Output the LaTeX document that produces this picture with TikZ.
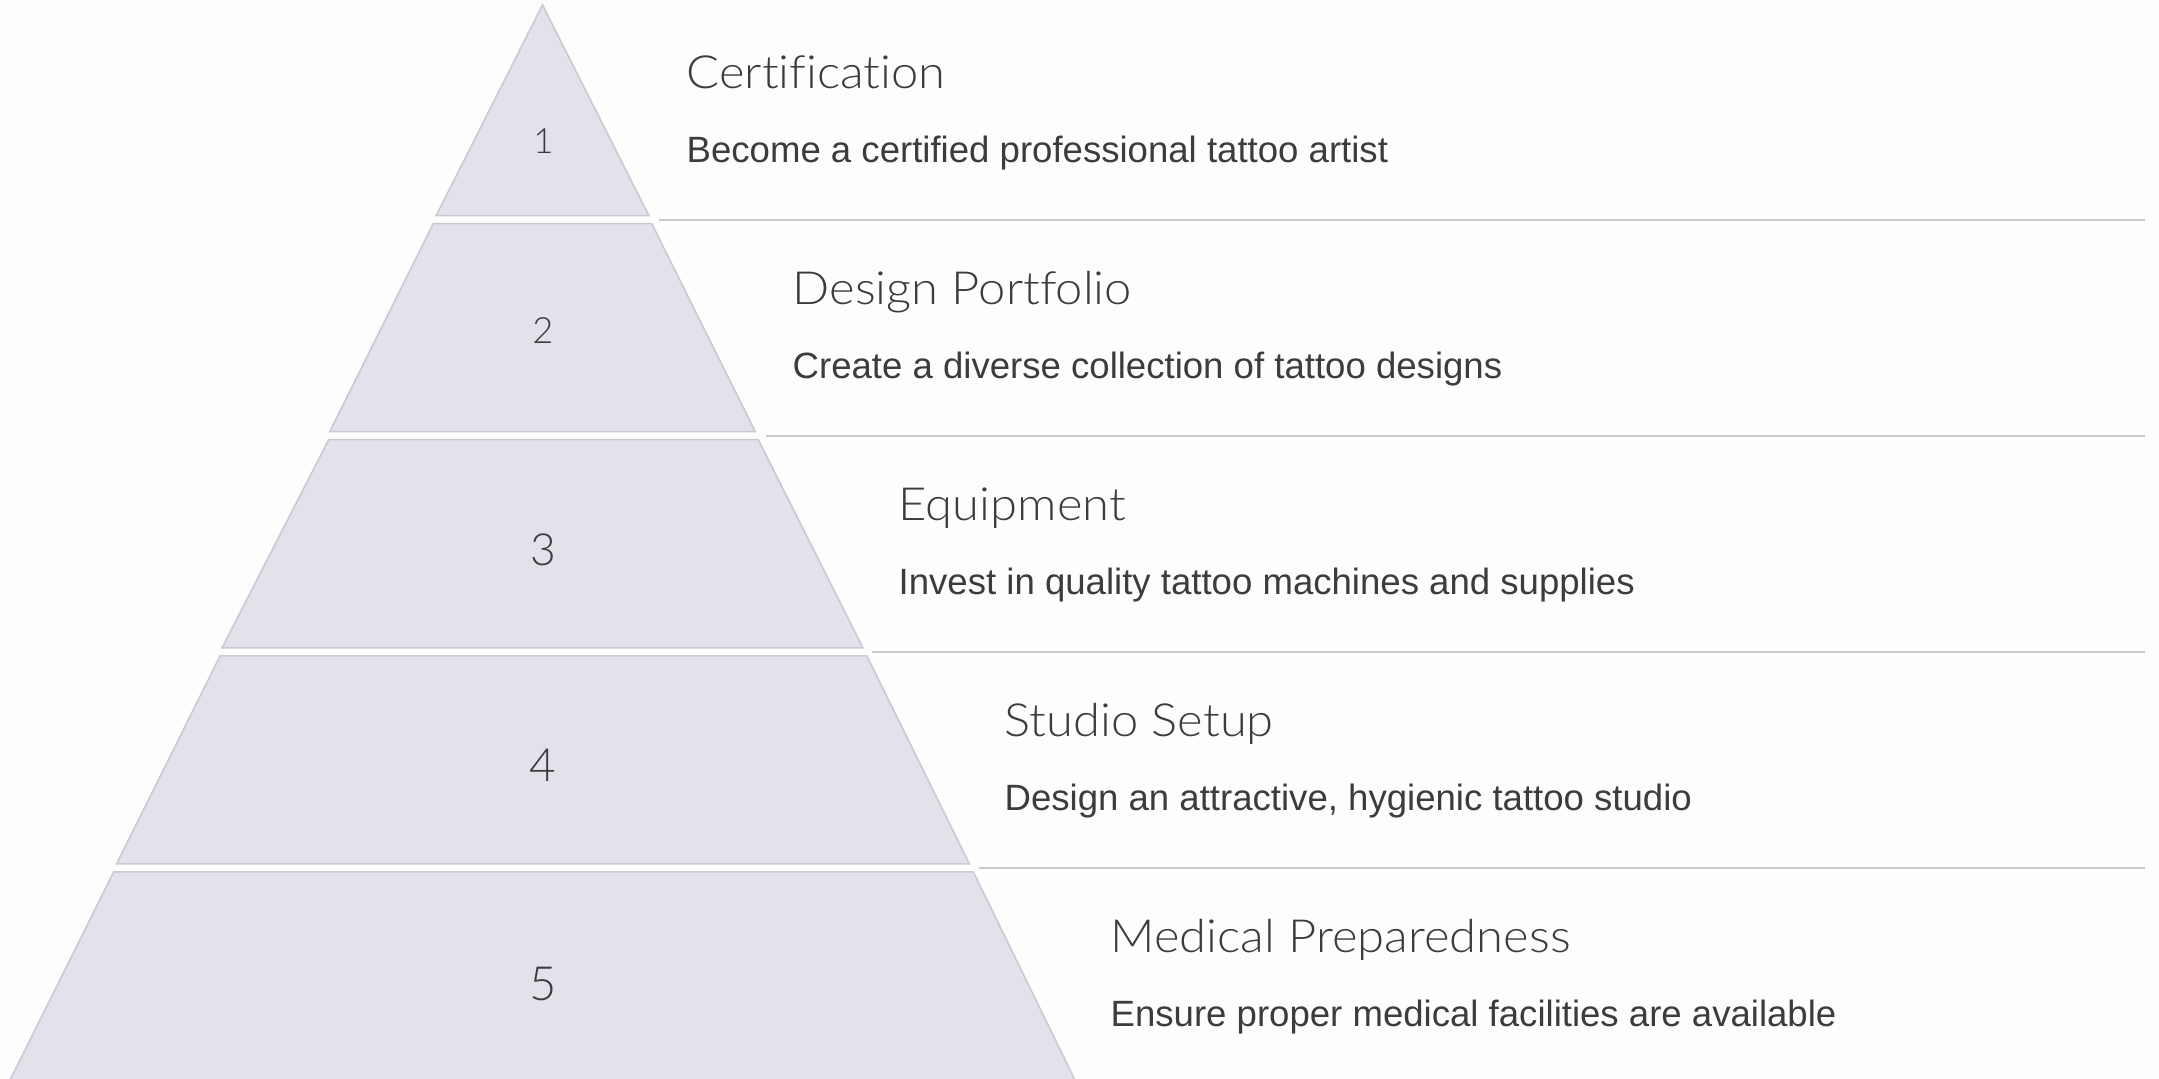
\documentclass[tikz,border=0pt]{standalone}
\usepackage{fontspec}
\setmainfont{Liberation Sans}
\newfontfamily\titlefont{Lato Light}
\newfontfamily\widetitlefont{Lato Light}[FakeStretch=1.07, Ligatures=NoCommon]
\newfontfamily\descfont{Liberation Sans}
\usepackage{tikz}

\definecolor{tierfill}{RGB}{225,226,234}
\definecolor{tieredge}{RGB}{200,201,210}
\definecolor{rulegray}{RGB}{200,200,208}
\definecolor{inkgray}{RGB}{60,60,60}
\definecolor{paper}{RGB}{253,253,253}

\tikzset{
	tier/.style={fill=tierfill, draw=tieredge, line width=0.45pt, line join=miter},
	divider/.style={draw=rulegray, line width=0.6pt},
	tiernum/.style={inner sep=0pt, anchor=center, text=inkgray, font=\titlefont},
	tiertitle/.style={inner sep=0pt, anchor=base west, text=inkgray, font=\widetitlefont\fontsize{13}{15}\selectfont},
	tierdesc/.style={inner sep=0pt, anchor=base west, text=inkgray, font=\descfont\fontsize{10.4}{12}\selectfont}
}

\begin{document}
\begin{tikzpicture}[x=0.01cm, y=-0.01cm]
	\fill[paper] (0,0) rectangle (2159,1079);
	\useasboundingbox (0,0) rectangle (2159,1079);
	\clip (0,0) rectangle (2159,1079);
	% pyramid
	\draw[tier] (542.5,5) -- (648.8,215.6) -- (436.2,215.6) -- cycle;
	\draw[tier] (433.3,223.6) -- (651.7,223.6) -- (755.3,431.7) -- (329.7,431.7) -- cycle;
	\draw[tier] (328.7,439.7) -- (758.3,439.7) -- (862.9,647.8) -- (222.1,647.8) -- cycle;
	\draw[tier] (220.2,655.8) -- (866.8,655.8) -- (969.4,863.9) -- (116.6,863.9) -- cycle;
	\draw[tier] (113.7,871.9) -- (973.3,871.9) -- (1076.9,1084) -- (8.1,1084) -- cycle;
	% numbers
	\node[tiernum, font=\titlefont\fontsize{9.9}{12}\selectfont] (num1) at (543.5,141) {1};
	\node[tiernum, font=\titlefont\fontsize{10.3}{12}\selectfont] (num2) at (543,331) {2};
	\node[tiernum, font=\titlefont\fontsize{12.6}{14}\selectfont] (num3) at (543,549.5) {3};
	\node[tiernum, font=\titlefont\fontsize{13}{15}\selectfont] (num4) at (543,765) {4};
	\node[tiernum, font=\titlefont\fontsize{13.4}{15}\selectfont] (num5) at (543,984) {5};
	% dividers
	\draw[divider] (659.3,219.6) -- (2145,219.6);
	\draw[divider] (765.8,435.7) -- (2145,435.7);
	\draw[divider] (872.3,651.8) -- (2145,651.8);
	\draw[divider] (978.9,867.9) -- (2145,867.9);
	% labels
	\node[tiertitle] (title1) at (686,88.3) {Certification};
	\node[tierdesc] (desc1) at (686,162.5) {Become a certified professional tattoo artist};
	\node[tiertitle] (title2) at (792,304.4) {Design Portfolio};
	\node[tierdesc] (desc2) at (792,378.6) {Create a diverse collection of tattoo designs};
	\node[tiertitle] (title3) at (898,520.5) {Equipment};
	\node[tierdesc] (desc3) at (898,594.7) {Invest in quality tattoo machines and supplies};
	\node[tiertitle] (title4) at (1004,736.6) {Studio Setup};
	\node[tierdesc] (desc4) at (1004,810.8) {Design an attractive, hygienic tattoo studio};
	\node[tiertitle] (title5) at (1110,952.7) {Medical Preparedness};
	\node[tierdesc] (desc5) at (1110,1026.9) {Ensure proper medical facilities are available};
\end{tikzpicture}
\end{document}
